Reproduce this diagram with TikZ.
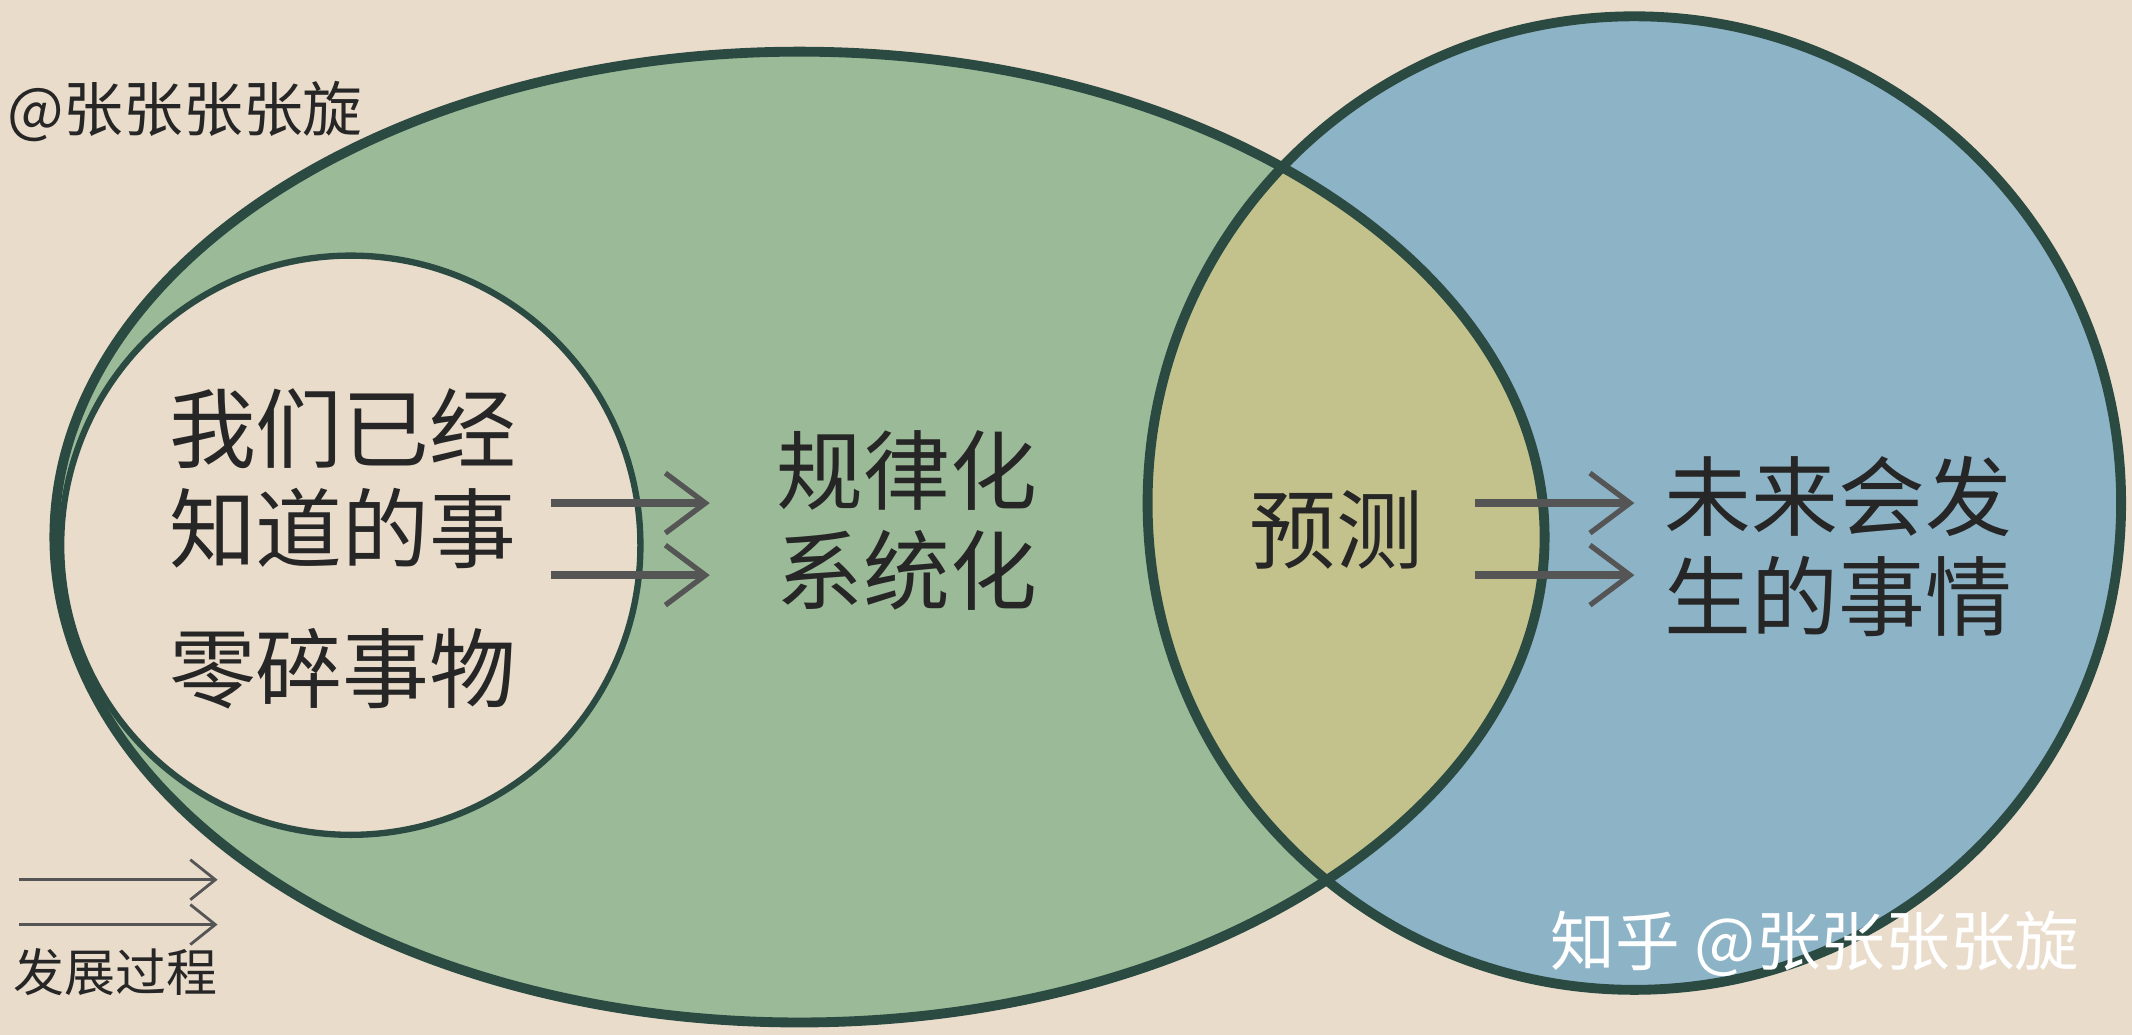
\documentclass[tikz,border=0pt]{standalone}
\usepackage{fontspec}
\newfontfamily\cjk{Noto Sans CJK SC}
\usetikzlibrary{arrows.meta}
\definecolor{bg}{HTML}{E9DCCB}
\definecolor{grn}{HTML}{9BBA98}
\definecolor{blu}{HTML}{8DB3C6}
\definecolor{olv}{HTML}{C3C28C}
\definecolor{edge}{HTML}{2B4A42}
\definecolor{arr}{HTML}{555555}
\tikzset{
 big/.style={font=\cjk\fontsize{24.7}{28.5}\selectfont, text=black!85, align=center},
 small/.style={font=\cjk\fontsize{17}{20}\selectfont, text=black!85},
 fat/.style={draw=arr, line width=2.2pt, -{Straight Barb[length=4mm,width=6mm,line width=1.5pt]}},
 thin/.style={draw=arr, line width=0.8pt, -{Straight Barb[length=2.5mm,width=4mm]}}
}
\begin{document}
\begin{tikzpicture}[x=0.0136cm,y=-0.0136cm]
\fill[bg] (0,0) rectangle (1568,761);
\useasboundingbox (0,0) rectangle (1568,761);
\fill[grn] (588,395) ellipse [x radius=548, y radius=357];
\fill[blu] (1202,370) circle [radius=358];
\begin{scope}
\clip (588,395) ellipse [x radius=548, y radius=357];
\fill[olv] (1202,370) circle [radius=358];
\end{scope}
\draw[edge, line width=2.8pt] (588,395) ellipse [x radius=548, y radius=357];
\draw[edge, line width=2.8pt] (1202,370) circle [radius=358];
\draw[edge, fill=bg, line width=1.8pt] (258,401) circle [radius=213];
\node[big] (known) at (252,352) {我们已经\\知道的事};
\node[big] (frag) at (252,492) {零碎事物};
\node[big] (rule) at (667,383) {规律化\\系统化};
\node[big] (pred) at (983,390) {预测};
\node[big] (fut) at (1352,402) {未来会发\\生的事情};
\node[small] (tag) at (136,82) {@张张张张旋};
\node[font=\cjk\fontsize{14.5}{16}\selectfont, text=black!85] (dev) at (85,715) {发展过程};
\node[font=\cjk\fontsize{18.4}{20}\selectfont, text=white] (wm) at (1335,694) {知乎 @张张张张旋};
\coordinate (a1) at (405,370); \coordinate (b1) at (522,370);
\coordinate (a2) at (405,423); \coordinate (b2) at (522,423);
\coordinate (c1) at (1085,370); \coordinate (d1) at (1202,370);
\coordinate (c2) at (1085,423); \coordinate (d2) at (1202,423);
\coordinate (e1) at (14,647); \coordinate (f1) at (160,647);
\coordinate (e2) at (14,680); \coordinate (f2) at (160,680);
\draw[fat] (a1) -- (b1); \draw[fat] (a2) -- (b2);
\draw[fat] (c1) -- (d1); \draw[fat] (c2) -- (d2);
\draw[thin] (e1) -- (f1); \draw[thin] (e2) -- (f2);
\end{tikzpicture}
\end{document}
